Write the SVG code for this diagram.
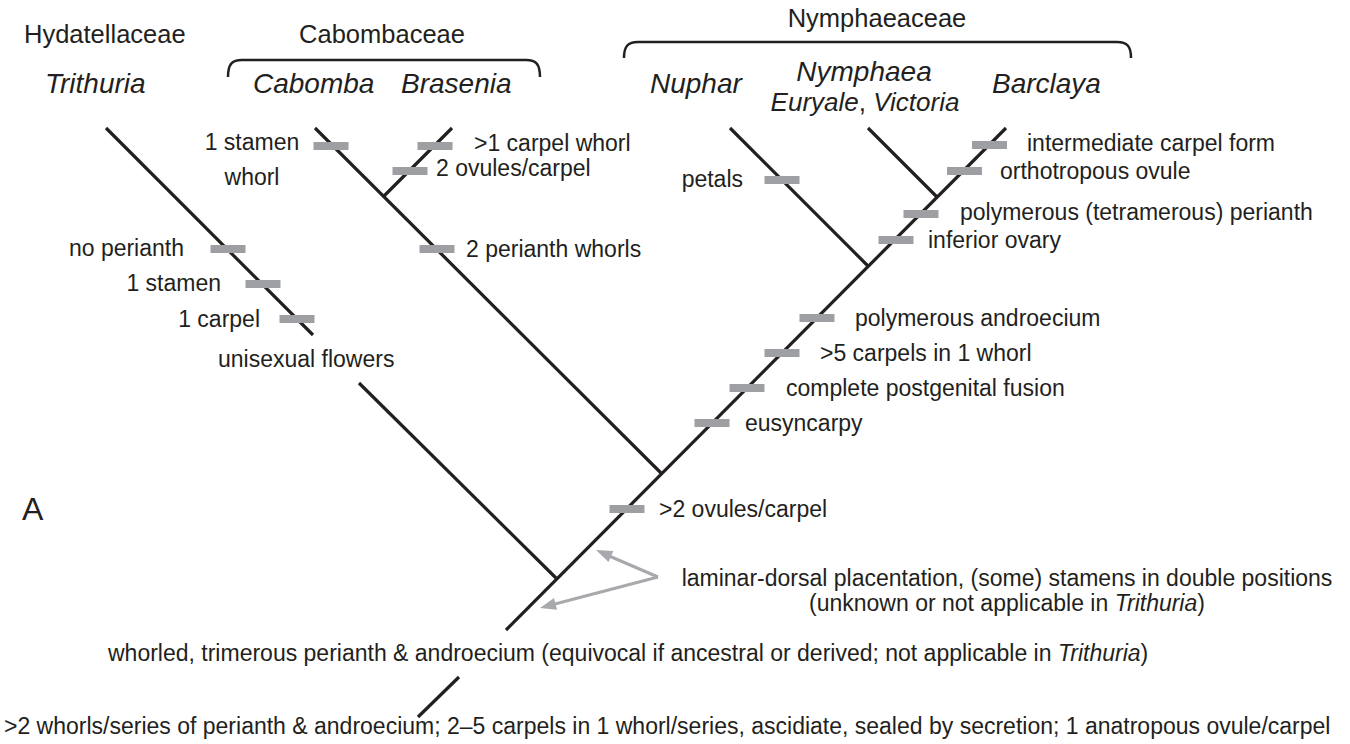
<svg xmlns="http://www.w3.org/2000/svg" width="1350" height="744" viewBox="0 0 1350 744">
<style>
text{font-family:"Liberation Sans",Arial,Helvetica,sans-serif;fill:#231f20;font-size:23px}
.fam{font-size:25.5px}
.gen{font-size:28px;font-style:italic}
.br{fill:none;stroke:#231f20;stroke-width:2.5}
.ln{stroke:#231f20;stroke-width:3.2;fill:none;stroke-linecap:butt}
.mk{fill:#9d9fa2}
.ar{stroke:#a7a9ac;stroke-width:3;fill:none}
.ah{fill:#a7a9ac}
.e{text-anchor:end}
.m{text-anchor:middle}
</style>
<rect width="1350" height="744" fill="#fff"/>
<g id="labels-top">
<text class="fam" x="24" y="43">Hydatellaceae</text>
<text class="fam m" x="382" y="43">Cabombaceae</text>
<text class="fam m" x="877" y="27">Nymphaeaceae</text>
<path class="br" d="M228,77 C228,64 232,60 242,60 L526,60 C536,60 540,64 540,77"/>
<path class="br" d="M624,58 C624,46 628,42 638,42 L1117,42 C1127,42 1131,46 1131,58"/>
</g>
<g id="node-trithuria"><text class="gen" x="45" y="93">Trithuria</text></g>
<g id="node-cabomba"><text class="gen" x="253" y="93">Cabomba</text></g>
<g id="node-brasenia"><text class="gen" x="401" y="93">Brasenia</text></g>
<g id="node-nuphar"><text class="gen" x="650" y="93">Nuphar</text></g>
<g id="node-nymphaea"><text class="gen m" x="864" y="81">Nymphaea</text><text class="m" x="865" y="111" style="font-size:26px"><tspan font-style="italic">Euryale</tspan>, <tspan font-style="italic">Victoria</tspan></text></g>
<g id="node-barclaya"><text class="gen" x="992" y="93">Barclaya</text></g>
<g id="connectors">
<line class="ln" x1="106" y1="128" x2="313" y2="335"/>
<line class="ln" x1="359" y1="383" x2="556" y2="578"/>
<line class="ln" x1="315" y1="128" x2="661" y2="473"/>
<line class="ln" x1="452" y1="128" x2="383.5" y2="196.5"/>
<line class="ln" x1="730" y1="128" x2="868" y2="266"/>
<line class="ln" x1="868" y1="128" x2="937" y2="197"/>
<line class="ln" x1="1006" y1="128" x2="506" y2="630"/>
<line class="ln" x1="459" y1="677" x2="418" y2="717"/>
<line class="ar" x1="658" y1="577" x2="608" y2="555.5"/>
<line class="ar" x1="658" y1="577" x2="554" y2="604.3"/>
<polygon class="ah" points="596,550 613.3,550.9 608.5,562"/>
<polygon class="ah" points="540,608 557,609.8 554,598"/>
</g>
<g id="marks">
<rect class="mk" x="210.5" y="245" width="35" height="8"/>
<rect class="mk" x="245.5" y="280" width="35" height="8"/>
<rect class="mk" x="279.5" y="315" width="35" height="8"/>
<rect class="mk" x="313.5" y="142" width="35" height="8"/>
<rect class="mk" x="417.5" y="142" width="35" height="8"/>
<rect class="mk" x="392.5" y="167" width="35" height="8"/>
<rect class="mk" x="419.5" y="245" width="35" height="8"/>
<rect class="mk" x="764.5" y="176" width="35" height="8"/>
<rect class="mk" x="972" y="141" width="35" height="8"/>
<rect class="mk" x="947" y="167" width="35" height="8"/>
<rect class="mk" x="903.5" y="210" width="35" height="8"/>
<rect class="mk" x="878.5" y="236" width="35" height="8"/>
<rect class="mk" x="799.5" y="314" width="35" height="8"/>
<rect class="mk" x="764.5" y="349" width="35" height="8"/>
<rect class="mk" x="729.5" y="384" width="35" height="8"/>
<rect class="mk" x="694.5" y="419" width="35" height="8"/>
<rect class="mk" x="609.5" y="505" width="35" height="8"/>
</g>
<g id="char-labels">
<text class="e" x="184" y="256">no perianth</text>
<text class="e" x="221" y="291">1 stamen</text>
<text class="e" x="260" y="327">1 carpel</text>
<text x="218" y="367">unisexual flowers</text>
<text class="m" x="252" y="150">1 stamen</text>
<text class="m" x="252" y="185">whorl</text>
<text x="474" y="151">&gt;1 carpel whorl</text>
<text x="436" y="176">2 ovules/carpel</text>
<text x="466" y="257">2 perianth whorls</text>
<text class="e" x="743" y="187">petals</text>
<text x="1027" y="151">intermediate carpel form</text>
<text x="1000" y="179">orthotropous ovule</text>
<text x="960" y="220">polymerous (tetramerous) perianth</text>
<text x="928" y="248">inferior ovary</text>
<text x="855" y="326">polymerous androecium</text>
<text x="820" y="361">&gt;5 carpels in 1 whorl</text>
<text x="786" y="396">complete postgenital fusion</text>
<text x="745" y="431">eusyncarpy</text>
<text x="659" y="517">&gt;2 ovules/carpel</text>
<text x="22" y="520" style="font-size:32px">A</text>
<text class="m" x="1007" y="586">laminar-dorsal placentation, (some) stamens in double positions</text>
<text class="m" x="1007" y="611">(unknown or not applicable in <tspan font-style="italic">Trithuria</tspan>)</text>
<text x="108" y="661">whorled, trimerous perianth &amp; androecium (equivocal if ancestral or derived; not applicable in <tspan font-style="italic">Trithuria</tspan>)</text>
<text x="4" y="734">&gt;2 whorls/series of perianth &amp; androecium; 2–5 carpels in 1 whorl/series, ascidiate, sealed by secretion; 1 anatropous ovule/carpel</text>
</g>
</svg>
